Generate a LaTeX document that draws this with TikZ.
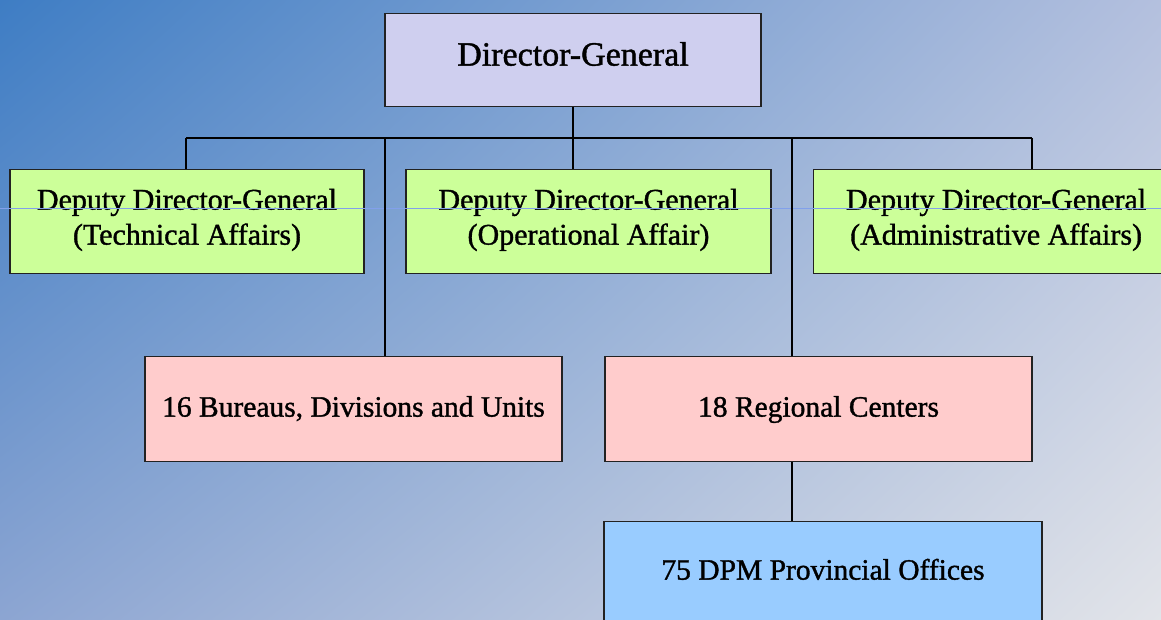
\documentclass[tikz,border=0pt]{standalone}
\usepackage{fontspec}
\setmainfont{Liberation Serif}[FakeBold=1.2]

% Four-corner (bilinear) background blend: blue at top left, pale grey at bottom right.
% \shade fits the central 25bp..75bp square of the shading onto the path.
\pgfdeclarefunctionalshading{panelbg}{\pgfpoint{0bp}{0bp}}{\pgfpoint{100bp}{100bp}}{}{
  25 sub 50 div exch 25 sub 50 div
  2 copy mul
  2 index -0.306 mul 2 index 0.337 mul add 1 index 0.125 mul add 0.549 add
  3 index -0.157 mul 3 index 0.247 mul add 2 index 0.016 mul add 0.647 add
  4 index -0.055 mul 4 index 0.090 mul add 3 index 0.012 mul add 0.824 add
  6 3 roll pop pop pop
}

\definecolor{dgfill}{RGB}{207,207,239}
\definecolor{depfill}{RGB}{204,255,153}
\definecolor{unitfill}{RGB}{255,204,204}
\definecolor{provfill}{RGB}{153,204,255}
\definecolor{boxline}{RGB}{34,34,34}
\definecolor{guideblue}{RGB}{130,160,235}

\tikzset{
  orgbox/.style={draw=boxline, line width=1.2pt, inner sep=0pt, align=center,
                 font=\fontsize{29.5}{34}\selectfont},
  depbox/.style={orgbox, fill=depfill, minimum width=365pt, text height=75pt,
                 text depth=29pt, font=\fontsize{30}{35}\selectfont},
  link/.style={draw=black, line width=2pt},
}

\begin{document}
\begin{tikzpicture}[x=1pt, y=-1pt]
  \useasboundingbox (0,0) rectangle (1161,619);
  \shade[shading=panelbg] (0,0) rectangle (1161,619);

  % top level
  \node[orgbox, fill=dgfill, minimum width=376pt, text height=52pt, text depth=41pt,
        font=\fontsize{34}{40}\selectfont, anchor=north] (dg) at (573,13) {Director-General};

  % deputies
  \node[depbox, minimum width=354pt, anchor=north] (dep1) at (187,169)
        {Deputy Director-General\\(Technical Affairs)};
  \node[depbox, anchor=north] (dep2) at (588.5,169)
        {Deputy Director-General\\(Operational Affair)};
  \node[depbox, anchor=north west] (dep3) at (813,169)
        {Deputy Director-General\\(Administrative Affairs)};

  % units and regions
  \node[orgbox, fill=unitfill, minimum width=417pt, text height=60pt, text depth=45pt,
        anchor=north] (bur) at (353.5,356) {16 Bureaus, Divisions and Units};
  \node[orgbox, fill=unitfill, minimum width=427pt, text height=60pt, text depth=45pt,
        anchor=north] (reg) at (818.5,356) {18 Regional Centers};
  \node[orgbox, fill=provfill, minimum width=438pt, text height=58pt, text depth=100pt,
        anchor=north] (prov) at (823,521) {75 DPM Provincial Offices};

  % thin guide line across the deputy row
  \draw[guideblue, line width=0.7pt] (0,208) -- (1161,208);

  % bus and taps
  \coordinate (busL) at (186,138);
  \coordinate (busR) at (1032,138);
  \coordinate (tapB) at (385,138);
  \coordinate (tapR) at (792,138);

  \draw[link] (busL) -- (busR);
  \draw[link] (dg.south) -- (dg.south |- busL);
  \draw[link] (busL) -- (busL |- dep1.north);
  \draw[link] (dg.south |- busL) -- (dg.south |- dep2.north);
  \draw[link] (busR) -- (busR |- dep3.north);
  \draw[link] (tapB) -- (tapB |- bur.north);
  \draw[link] (tapR) -- (tapR |- reg.north);
  \draw[link] (tapR |- reg.south) -- (tapR |- prov.north);
\end{tikzpicture}
\end{document}
